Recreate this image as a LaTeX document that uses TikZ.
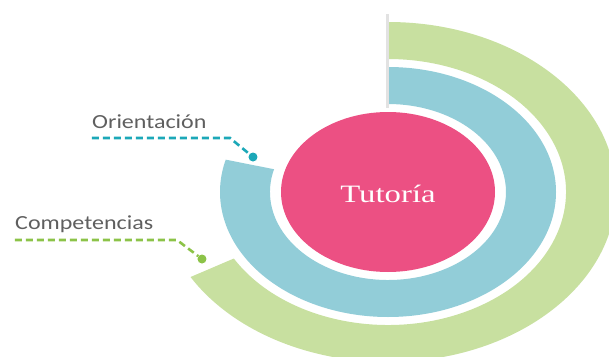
\documentclass[tikz,border=0pt]{standalone}
\usepackage{fontspec}
\newfontfamily\lblfont{Carlito}
\newfontfamily\tutfont{Liberation Serif}
\usetikzlibrary{positioning, calc}
\definecolor{tutpink}{RGB}{236,80,131}
\definecolor{bandblue}{RGB}{146,205,216}
\definecolor{bandgreen}{RGB}{200,224,160}
\definecolor{linkteal}{RGB}{28,168,184}
\definecolor{linkgreen}{RGB}{140,195,72}
\definecolor{lblgray}{RGB}{95,95,95}
\definecolor{stemgray}{RGB}{226,226,226}
\begin{document}
\begin{tikzpicture}[
      x=1pt, y=1pt,
      lbl/.style={font=\lblfont\fontsize{20}{24}\selectfont, text=lblgray,
                  inner sep=0pt, xscale=1.2, anchor=base west},
      dot/.style={circle, inner sep=0pt, minimum size=9pt},
      link/.style={dash pattern=on 7pt off 4pt, line width=2.6pt},
      every node/.style={font=\Large}
    ]
        \useasboundingbox (-388,-164) rectangle (221,192);
        % rings
        \fill[bandgreen] (90:228 and 170) arc[start angle=90, end angle=-150, x radius=228, y radius=170]
            -- (-150:178 and 133) arc[start angle=-150, end angle=90, x radius=178, y radius=133] -- cycle;
        \fill[bandblue] (90:168 and 125) arc[start angle=90, end angle=-195, x radius=168, y radius=125]
            -- (-195:118 and 88) arc[start angle=-195, end angle=90, x radius=118, y radius=88] -- cycle;
        \draw[line width=3pt, stemgray] (-1,178) -- (-1,84);
        \fill[tutpink] (0,0) ellipse[x radius=107, y radius=80];
        \node[font=\tutfont\fontsize{25}{30}\selectfont, text=white, inner sep=0pt, xscale=1.31, anchor=base] (tut) at (0,-10) {Tutoría};
        % labels
        \node[lbl] (orient) at (-296,64) {Orientación};
        \node[lbl] (comp) at (-373,-37) {Competencias};
        \node[dot, fill=linkteal] (odot) at (-135,35) {};
        \node[dot, fill=linkgreen] (cdot) at (-186,-67) {};
        \coordinate (obend) at (-158,54);
        \coordinate (cbend) at (-211,-48);
        \draw[link, linkteal] ([yshift=-10pt]orient.base west) -- (obend) -- (odot);
        \draw[link, linkgreen] ([yshift=-11pt]comp.base west) -- (cbend) -- (cdot);
    \end{tikzpicture}
\end{document}
